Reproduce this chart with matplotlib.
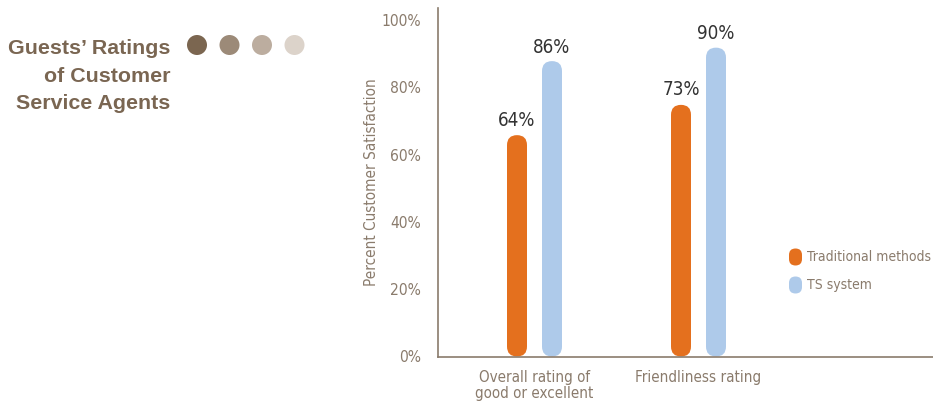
import numpy as np
import matplotlib
matplotlib.use('Agg')
import matplotlib.pyplot as plt
from matplotlib import font_manager
from matplotlib.patches import FancyBboxPatch, Ellipse

# data
categories  = ['Overall rating of\ngood or excellent', 'Friendliness rating']
series      = ['Traditional methods', 'TS system']
traditional = [64, 73]
ts_system   = [86, 90]
yticks      = [0, 20, 40, 60, 80, 100]

# fonts: look for a condensed sans
narrow_file = None
for f in font_manager.fontManager.ttflist:
    if ('Condensed' in f.fname or 'Narrow' in f.fname) and 'Bold' not in f.fname \
            and 'Oblique' not in f.fname and 'Italic' not in f.fname:
        narrow_file = f.fname
        if 'DejaVuSansCondensed.ttf' in f.fname:
            break

def nf(size):
    if narrow_file:
        return dict(fontproperties=font_manager.FontProperties(fname=narrow_file, size=size))
    return dict(family='DejaVu Sans', fontsize=size*0.9)

c_orange = '#e4701e'
c_blue   = '#aecaea'
c_axis   = '#8a7b6c'
c_title  = '#7a6652'
c_value  = '#333333'

fig = plt.figure(figsize=(9.33, 4.04), dpi=100, facecolor='white')
W, H = 933., 404.
x0, xr, yb, yt = 438., 933., 357., 8.
ax = fig.add_axes([x0/W, (H-yb)/H, (xr-x0)/W, (yb-yt)/H])

px_x = 164.                          # pixels per category unit
px_y = (356.5 - 20.) / 100.          # pixels per percent
ax.set_xlim(-(534.5-x0)/px_x, (xr-534.5)/px_x)
ax.set_ylim(-0.5/px_y, (yb-yt-0.5)/px_y)

off   = 17.5/px_x
width = 20./px_x
aspect = px_x/px_y
cap = 6./px_y        # rounded end overhangs the value a little

def rbar(xc, val, color):
    rx = width/2
    p = FancyBboxPatch((xc-rx, 0), width, val+cap,
                       boxstyle='round,pad=0,rounding_size=%f' % rx,
                       mutation_aspect=aspect, fc=color, ec='none')
    ax.add_patch(p)

for i in range(len(categories)):
    rbar(i-off, traditional[i], c_orange)
    rbar(i+off, ts_system[i], c_blue)
    ax.annotate('%d%%' % traditional[i], (i-off, traditional[i]+cap), xytext=(0, 4),
                textcoords='offset points', ha='center', va='bottom',
                color=c_value, **nf(13.5))
    ax.annotate('%d%%' % ts_system[i], (i+off, ts_system[i]+cap), xytext=(0, 3),
                textcoords='offset points', ha='center', va='bottom',
                color=c_value, **nf(13.5))

for s in ['top', 'right']:
    ax.spines[s].set_visible(False)
for s in ['left', 'bottom']:
    ax.spines[s].set_color(c_axis)
    ax.spines[s].set_linewidth(1.2)

ax.set_yticks(yticks)
ax.set_yticklabels(['%d%%' % v for v in yticks], color=c_axis, **nf(11.2))
ax.tick_params(axis='y', length=0, pad=12)
ax.set_xticks(range(len(categories)))
ax.set_xticklabels(categories, color=c_axis, linespacing=1.05, **nf(10.9))
ax.tick_params(axis='x', length=0, pad=9.5)
ax.set_ylabel('Percent Customer Satisfaction', color=c_axis, labelpad=2, **nf(11))

# legend
for j, (name, col) in enumerate(zip(series, [c_orange, c_blue])):
    y = 257 + j*28
    fig.patches.append(FancyBboxPatch((789/W, (H-y-8.5)/H), 13/W, 17/H,
                       boxstyle='round,pad=0,rounding_size=%f' % (6.5/W),
                       mutation_aspect=W/H, fc=col, ec='none',
                       transform=fig.transFigure))
    fig.text(807/W, (H-y)/H, name, color=c_axis, ha='left', va='center', **nf(10))

# title and dots
fig.text(170/W, (H-76)/H, 'Guests\u2019 Ratings\nof Customer\nService Agents',
         ha='right', va='center', fontsize=15.4, fontweight='bold', color=c_title,
         family='Liberation Sans', linespacing=1.56)
dot_cols = ['#7b6650', '#9c8a78', '#bcad9f', '#dcd3ca']
for k, col in enumerate(dot_cols):
    fig.patches.append(Ellipse(((197+32.5*k)/W, (H-45)/H), 20/W, 20/H,
                       fc=col, ec='none', transform=fig.transFigure))

fig.savefig('out.png', dpi=100, facecolor='white')
